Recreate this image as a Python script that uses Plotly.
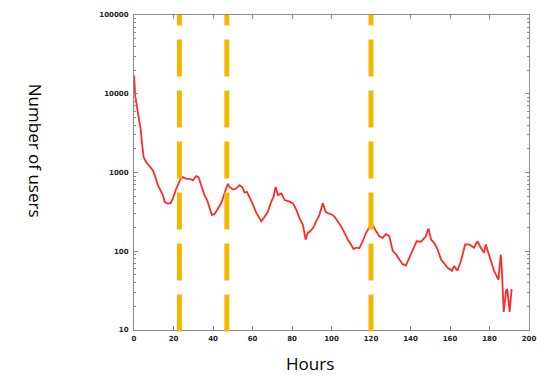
import plotly.graph_objects as go

hours = [0, 0.66, 2.0, 3.4, 4.0, 4.9, 6.2, 7.9, 9.6, 10.5, 12.1, 13.8, 14.6, 15.5, 16.8, 18.5,
         19.7, 21.4, 22.6, 23.6, 24.7, 26.4, 28.9, 29.8, 31.5, 32.7, 34.0, 35.7, 37.0, 38.2,
         39.4, 40.8, 42.1, 44.1, 45.8, 47.5, 48.3, 50.0, 51.7, 53.4, 55.1, 55.9, 57.2, 58.4,
         60.3, 62.0, 63.6, 64.5, 66.2, 67.8, 69.5, 70.7, 71.7, 72.9, 74.6, 76.3, 78.8, 80.5,
         82.2, 83.8, 85.5, 86.9, 88.0, 89.2, 90.6, 92.3, 93.9, 95.6, 97.0, 98.1, 99.8, 101.5,
         103.2, 104.9, 106.6, 108.2, 109.9, 111.1, 112.8, 114.1, 115.8, 117.5, 119.2, 121.2,
         122.6, 124.2, 125.9, 127.6, 129.3, 131.0, 132.7, 134.3, 136.0, 137.7, 139.4, 141.1,
         143.1, 145.3, 147.8, 149.1, 150.4, 152.0, 153.7, 155.4, 157.1, 158.7, 161.0, 162.1,
         163.8, 165.5, 167.7, 169.7, 172.2, 173.9, 175.6, 177.3, 178.1, 179.8, 180.7, 182.3,
         184.5, 185.7, 186.2, 187.2, 188.4, 189.0, 190.2, 191.2]
users = [17100, 9250, 5710, 3530, 2400, 1560, 1350, 1190, 1060, 920, 689, 568, 521, 426, 406, 406,
         468, 625, 721, 834, 875, 834, 820, 796, 902, 875, 689, 516, 447, 351,
         290, 295, 335, 406, 541, 721, 656, 607, 625, 689, 638, 557, 568, 492,
         387, 304, 263, 239, 276, 319, 426, 492, 656, 516, 541, 447, 426, 406,
         335, 263, 217, 141, 171, 179, 197, 239, 290, 406, 319, 304, 295, 276,
         239, 207, 171, 141, 122, 107, 111, 109, 134, 171, 201, 207,
         179, 155, 148, 166, 155, 101, 91, 79, 68.5, 66, 83, 106,
         134, 132, 155, 194, 141, 128, 106, 79, 68.5, 62, 56.5, 65,
         56.5, 75, 122, 122, 111, 134, 111, 96, 122, 91, 79, 56.5,
         43.5, 91, 62, 17, 31.7, 33, 17, 33]

marker_hours = [23, 47, 120]
x_ticks = [0, 20, 40, 60, 80, 100, 120, 140, 160, 180, 200]
y_ticks = [10, 100, 1000, 10000, 100000]
y_ticktext = ["10", "100", "1000", "10000", "100000"]

fig = go.Figure()
fig.add_trace(go.Scatter(x=hours, y=users, mode="lines",
                         line=dict(color="#ff2b2b", width=1.8), showlegend=False))

for h in marker_hours:
    fig.add_shape(type="line", xref="x", yref="paper", x0=h, x1=h, y0=-0.005, y1=1,
                  line=dict(color="#f5b800", width=5, dash="37px,14px"))

tickfont = dict(family="DejaVu Sans", size=7, color="#222", weight="bold")
axis_common = dict(showline=True, linecolor="#8a8a8a", linewidth=1, mirror="allticks",
                   ticks="inside", tickcolor="#8a8a8a", ticklen=4, showgrid=False,
                   zeroline=False, tickfont=tickfont)

fig.update_xaxes(range=[0, 200], tickvals=x_ticks, ticktext=[str(v) for v in x_ticks],
                 ticklabelstandoff=2, **axis_common)
fig.update_yaxes(type="log", range=[1, 5], tickvals=y_ticks, ticktext=y_ticktext,
                 minor=dict(ticks="inside", ticklen=2, tickcolor="#8a8a8a", dtick="D1"),
                 ticklabelstandoff=3, **axis_common)

fig.add_annotation(text="Hours", xref="paper", yref="paper", x=0.446, y=-0.106,
                   xanchor="center", yanchor="middle", showarrow=False,
                   font=dict(family="Open Sans", size=17, color="black"))
fig.add_annotation(text="Number of users", xref="paper", yref="paper", x=-0.249, y=0.57,
                   xanchor="center", yanchor="middle", showarrow=False, textangle=90,
                   font=dict(family="Open Sans", size=17, color="black"))

fig.update_layout(width=547, height=376, margin=dict(l=134, r=16, t=11, b=46),
                  plot_bgcolor="white", paper_bgcolor="white")

fig.write_html("out.html", config={"displayModeBar": False},
               post_script="document.body.style.margin='0px';document.body.style.overflow='hidden';")
